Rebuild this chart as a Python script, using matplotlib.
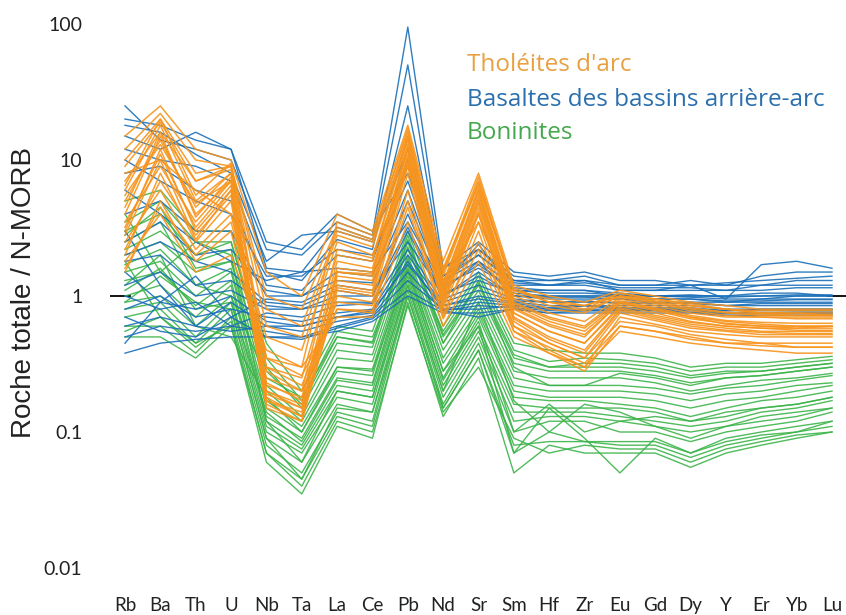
import numpy as np
import matplotlib
matplotlib.use("Agg")
import matplotlib.pyplot as plt

# spider diagram, normalised to N-MORB
elements = ["Rb", "Ba", "Th", "U", "Nb", "Ta", "La", "Ce", "Pb", "Nd", "Sr",
            "Sm", "Hf", "Zr", "Eu", "Gd", "Dy", "Y", "Er", "Yb", "Lu"]

# back-arc basin basalts (blue)
babb = [
    [25, 14, 12, 10, 2.2, 2.0, 3.5, 2.8, 95, 1.6, 2.2, 1.4, 1.3, 1.4, 1.2, 1.2, 1.3, 1.2, 1.4, 1.5, 1.5],
    [18, 16, 11, 8, 1.8, 2.8, 3.0, 2.5, 50, 1.4, 2.0, 1.3, 1.2, 1.3, 1.1, 1.1, 1.2, 0.95, 1.7, 1.8, 1.6],
    [12, 10, 9, 7, 1.5, 1.3, 2.6, 2.2, 25, 1.3, 1.8, 1.2, 1.2, 1.2, 1.1, 1.1, 1.1, 1.1, 1.2, 1.3, 1.3],
    [8, 9, 6, 5, 1.2, 1.1, 2.0, 1.8, 10, 1.2, 2.4, 1.1, 1.1, 1.1, 1.0, 1.0, 1.0, 1.0, 1.0, 1.0, 1.0],
    [4, 5, 3, 3, 1.0, 1.0, 1.5, 1.4, 6, 1.1, 1.8, 1.0, 1.0, 1.0, 1.0, 0.95, 0.95, 0.9, 0.95, 0.95, 0.95],
    [2, 2.5, 1.8, 1.5, 0.9, 0.85, 1.1, 1.0, 4, 1.0, 1.5, 1.0, 0.95, 0.95, 0.95, 0.9, 0.9, 0.9, 0.9, 0.9, 0.9],
    [1.2, 1.5, 1.0, 1.1, 0.8, 0.8, 0.9, 0.9, 3, 0.95, 1.2, 0.95, 0.9, 0.9, 0.9, 0.9, 0.88, 0.85, 0.85, 0.85, 0.85],
    [0.8, 1.0, 0.7, 0.8, 0.7, 0.65, 0.75, 0.8, 2, 0.85, 1.0, 0.9, 0.85, 0.85, 0.85, 0.85, 0.85, 0.8, 0.8, 0.8, 0.8],
    [0.5, 0.6, 0.55, 0.6, 0.55, 0.5, 0.6, 0.7, 1.3, 0.8, 0.8, 0.85, 0.8, 0.8, 0.8, 0.8, 0.8, 0.78, 0.78, 0.78, 0.78],
    [0.38, 0.45, 0.48, 0.5, 0.5, 0.5, 0.55, 0.65, 1.0, 0.75, 0.75, 0.8, 0.75, 0.75, 0.75, 0.75, 0.75, 0.72, 0.72, 0.72, 0.72],
    [15, 12, 16, 12, 2.5, 2.2, 4.0, 3.0, 8, 1.6, 2.5, 1.5, 1.4, 1.5, 1.3, 1.3, 1.2, 1.2, 1.2, 1.2, 1.2],
    [6, 4, 2.5, 1.8, 1.3, 1.5, 1.6, 1.5, 3.5, 1.2, 1.6, 1.15, 1.1, 1.1, 1.05, 1.0, 1.0, 1.0, 1.05, 1.05, 1.0],
    [1.5, 0.9, 1.4, 0.7, 0.95, 0.9, 1.2, 1.1, 2.5, 1.05, 1.3, 1.05, 1.0, 1.0, 1.0, 1.0, 0.98, 0.95, 0.95, 1.0, 1.0],
    [3, 1.2, 0.6, 0.9, 0.6, 0.6, 0.7, 0.75, 1.8, 0.8, 0.9, 0.85, 0.8, 0.85, 0.8, 0.8, 0.8, 0.75, 0.75, 0.75, 0.75],
    [1.0, 0.8, 0.9, 0.6, 0.75, 0.7, 0.85, 0.88, 2.2, 0.9, 1.1, 0.92, 0.9, 0.92, 0.88, 0.88, 0.9, 0.85, 0.88, 0.88, 0.88],
    [0.6, 0.7, 0.6, 0.55, 0.6, 0.55, 0.65, 0.72, 1.5, 0.78, 0.85, 0.82, 0.78, 0.78, 0.78, 0.78, 0.78, 0.75, 0.75, 0.76, 0.76],
    [2.5, 3.5, 2.0, 2.2, 1.1, 1.0, 1.3, 1.25, 5, 1.15, 1.7, 1.1, 1.05, 1.05, 1.02, 1.0, 1.02, 0.98, 1.0, 1.02, 1.02],
    [1.8, 2.0, 1.2, 1.3, 0.85, 0.8, 1.0, 1.0, 3.2, 1.0, 1.4, 1.0, 0.98, 0.98, 0.95, 0.95, 0.95, 0.92, 0.92, 0.94, 0.94],
    [10, 7, 5, 4, 1.4, 1.4, 2.2, 2.0, 7, 1.3, 2.0, 1.25, 1.2, 1.25, 1.15, 1.15, 1.15, 1.1, 1.1, 1.15, 1.15],
    [0.45, 0.9, 0.8, 1.0, 0.65, 0.6, 0.7, 0.78, 1.7, 0.85, 0.95, 0.88, 0.82, 0.85, 0.82, 0.82, 0.82, 0.78, 0.8, 0.8, 0.8],
    [20, 18, 14, 12, 1.6, 1.5, 3.2, 2.6, 12, 1.4, 2.2, 1.3, 1.3, 1.3, 1.2, 1.2, 1.2, 1.25, 1.3, 1.35, 1.4],
    [0.7, 0.55, 0.5, 0.7, 0.5, 0.48, 0.58, 0.68, 1.1, 0.78, 0.7, 0.8, 0.75, 0.78, 0.78, 0.78, 0.76, 0.74, 0.74, 0.74, 0.74],
]

# arc tholeiites (orange)
tholeiites = [
    [15, 25, 12, 10, 1.5, 1.0, 4.0, 3.0, 18, 1.8, 8, 1.2, 1.0, 0.9, 1.1, 1.0, 0.9, 0.85, 0.8, 0.8, 0.8],
    [10, 20, 8, 9, 0.8, 0.6, 3.0, 2.5, 15, 1.5, 7, 1.1, 0.9, 0.8, 1.05, 0.95, 0.85, 0.8, 0.75, 0.75, 0.75],
    [6, 18, 5, 8, 0.3, 0.25, 2.0, 1.8, 14, 1.2, 6, 0.9, 0.7, 0.6, 0.95, 0.85, 0.75, 0.7, 0.7, 0.68, 0.68],
    [4, 15, 4, 7, 0.2, 0.15, 1.5, 1.4, 12, 1.0, 5, 0.8, 0.6, 0.5, 0.9, 0.8, 0.7, 0.65, 0.62, 0.6, 0.6],
    [3, 12, 3, 6, 0.18, 0.13, 1.2, 1.1, 10, 0.9, 4.5, 0.7, 0.5, 0.4, 0.8, 0.7, 0.62, 0.58, 0.55, 0.55, 0.55],
    [2, 8, 2.5, 5, 0.15, 0.12, 1.0, 0.9, 8, 0.8, 3.5, 0.6, 0.4, 0.3, 0.7, 0.62, 0.55, 0.52, 0.5, 0.5, 0.5],
    [1.5, 5, 1.8, 3, 0.25, 0.2, 0.8, 0.75, 6, 0.7, 3, 0.55, 0.38, 0.28, 0.6, 0.55, 0.5, 0.45, 0.45, 0.42, 0.42],
    [8, 10, 6, 4, 0.5, 0.4, 2.5, 2.0, 9, 1.3, 3.5, 1.0, 0.8, 0.75, 1.0, 0.9, 0.8, 0.75, 0.72, 0.72, 0.72],
    [12, 22, 10, 9, 0.35, 0.3, 3.5, 2.8, 16, 1.6, 6.5, 1.15, 0.9, 0.85, 1.05, 0.95, 0.85, 0.8, 0.75, 0.75, 0.72],
    [3.5, 9, 3.5, 7, 0.22, 0.18, 1.4, 1.3, 11, 1.0, 4, 0.75, 0.55, 0.45, 0.85, 0.75, 0.65, 0.6, 0.58, 0.58, 0.58],
    [5, 14, 4.5, 8, 0.17, 0.14, 1.6, 1.5, 13, 1.1, 5.5, 0.85, 0.65, 0.55, 0.9, 0.8, 0.7, 0.62, 0.6, 0.58, 0.6],
    [2.5, 6, 2.2, 4, 0.3, 0.22, 0.9, 0.85, 5, 0.75, 2.5, 0.6, 0.45, 0.35, 0.65, 0.6, 0.52, 0.48, 0.45, 0.45, 0.45],
    [1.8, 4, 1.5, 2, 0.4, 0.3, 0.7, 0.7, 3.5, 0.6, 1.8, 0.5, 0.38, 0.3, 0.55, 0.5, 0.45, 0.42, 0.4, 0.38, 0.38],
    [7, 16, 7, 9, 1.0, 0.8, 3.2, 2.6, 17, 1.5, 7.5, 1.1, 0.95, 0.85, 1.0, 0.95, 0.88, 0.8, 0.78, 0.78, 0.78],
    [4.5, 16, 3.8, 7.5, 0.19, 0.15, 1.5, 1.45, 12.5, 1.05, 5.2, 0.82, 0.62, 0.52, 0.88, 0.78, 0.68, 0.63, 0.6, 0.6, 0.6],
    [3.2, 11, 3.2, 6.5, 0.17, 0.13, 1.3, 1.2, 10.5, 0.95, 4.8, 0.75, 0.55, 0.45, 0.82, 0.72, 0.64, 0.6, 0.58, 0.56, 0.56],
    [2.2, 7, 2.8, 5.5, 0.16, 0.12, 1.1, 1.0, 9, 0.85, 4.0, 0.65, 0.45, 0.35, 0.75, 0.66, 0.58, 0.55, 0.52, 0.52, 0.52],
    [9, 19, 7, 8.5, 0.6, 0.5, 2.8, 2.3, 14.5, 1.4, 6.8, 1.05, 0.85, 0.78, 1.0, 0.92, 0.82, 0.76, 0.74, 0.72, 0.72],
    [5.5, 13, 4.8, 7, 0.23, 0.17, 1.8, 1.6, 12, 1.15, 5.8, 0.88, 0.68, 0.58, 0.92, 0.82, 0.72, 0.66, 0.64, 0.63, 0.63],
    [2.8, 10, 2.6, 6, 0.2, 0.16, 1.15, 1.05, 9.5, 0.88, 4.2, 0.68, 0.48, 0.38, 0.78, 0.68, 0.6, 0.56, 0.54, 0.53, 0.53],
    [6.5, 20, 5.5, 9.5, 0.28, 0.2, 2.2, 1.9, 15, 1.25, 6.2, 0.95, 0.75, 0.65, 0.98, 0.88, 0.78, 0.72, 0.7, 0.7, 0.7],
    [1.6, 4.5, 2.0, 3.5, 0.35, 0.26, 0.8, 0.78, 4.5, 0.68, 2.2, 0.55, 0.42, 0.32, 0.6, 0.55, 0.48, 0.45, 0.43, 0.42, 0.42],
]

# boninites (green)
boninites = [
    [5, 6, 3, 3, 0.45, 0.2, 0.6, 0.55, 3, 0.6, 1.5, 0.45, 0.4, 0.38, 0.38, 0.35, 0.3, 0.32, 0.32, 0.34, 0.36],
    [3, 4, 2, 2.5, 0.3, 0.15, 0.45, 0.42, 2.5, 0.5, 1.2, 0.35, 0.3, 0.3, 0.3, 0.28, 0.25, 0.27, 0.28, 0.3, 0.32],
    [2, 2.5, 1.5, 1.8, 0.2, 0.12, 0.35, 0.33, 2, 0.4, 1.0, 0.28, 0.25, 0.25, 0.25, 0.23, 0.2, 0.22, 0.24, 0.25, 0.27],
    [1.5, 1.8, 1.0, 1.5, 0.15, 0.1, 0.28, 0.26, 1.8, 0.32, 0.8, 0.22, 0.2, 0.2, 0.2, 0.19, 0.17, 0.19, 0.2, 0.22, 0.23],
    [1.0, 1.2, 0.7, 1.2, 0.12, 0.08, 0.22, 0.2, 1.5, 0.25, 0.7, 0.18, 0.17, 0.17, 0.16, 0.15, 0.13, 0.15, 0.17, 0.18, 0.2],
    [0.8, 0.9, 0.5, 0.9, 0.1, 0.07, 0.18, 0.16, 1.3, 0.2, 0.55, 0.14, 0.14, 0.14, 0.13, 0.12, 0.11, 0.12, 0.14, 0.15, 0.17],
    [0.6, 0.6, 0.38, 0.7, 0.08, 0.05, 0.14, 0.12, 1.1, 0.16, 0.45, 0.1, 0.12, 0.12, 0.1, 0.1, 0.085, 0.1, 0.11, 0.12, 0.14],
    [0.5, 0.5, 0.35, 0.6, 0.06, 0.035, 0.11, 0.09, 0.9, 0.13, 0.35, 0.05, 0.08, 0.07, 0.07, 0.07, 0.055, 0.07, 0.08, 0.09, 0.1],
    [2.5, 3.5, 1.2, 1.0, 0.25, 0.18, 0.5, 0.45, 2.8, 0.45, 1.3, 0.3, 0.22, 0.22, 0.27, 0.25, 0.22, 0.25, 0.26, 0.28, 0.3],
    [1.2, 2, 0.6, 0.5, 0.18, 0.1, 0.3, 0.28, 1.6, 0.28, 0.6, 0.07, 0.15, 0.09, 0.05, 0.09, 0.07, 0.09, 0.1, 0.11, 0.12],
    [4, 1.5, 2.5, 2, 0.12, 0.06, 0.2, 0.18, 1.2, 0.2, 0.9, 0.17, 0.1, 0.16, 0.14, 0.11, 0.09, 0.11, 0.13, 0.14, 0.15],
    [0.9, 1.4, 0.9, 0.8, 0.09, 0.045, 0.15, 0.14, 1.0, 0.15, 0.4, 0.08, 0.085, 0.085, 0.08, 0.08, 0.065, 0.08, 0.09, 0.1, 0.11],
    [1.8, 0.7, 0.45, 0.6, 0.07, 0.04, 0.12, 0.1, 0.85, 0.14, 0.3, 0.09, 0.07, 0.08, 0.075, 0.075, 0.06, 0.075, 0.085, 0.095, 0.1],
    [3.5, 5, 2.5, 2.5, 0.35, 0.17, 0.55, 0.5, 2.2, 0.55, 1.4, 0.4, 0.33, 0.35, 0.34, 0.32, 0.28, 0.3, 0.3, 0.32, 0.34],
    [2.2, 3, 1.8, 2.2, 0.22, 0.13, 0.4, 0.37, 2.3, 0.45, 1.1, 0.32, 0.28, 0.28, 0.28, 0.26, 0.23, 0.25, 0.26, 0.28, 0.3],
    [1.7, 2.2, 1.2, 1.6, 0.17, 0.11, 0.3, 0.29, 1.9, 0.35, 0.9, 0.25, 0.22, 0.22, 0.22, 0.21, 0.19, 0.21, 0.22, 0.24, 0.26],
    [1.3, 1.5, 0.85, 1.3, 0.13, 0.09, 0.25, 0.23, 1.7, 0.28, 0.75, 0.2, 0.18, 0.18, 0.18, 0.17, 0.15, 0.17, 0.18, 0.2, 0.22],
    [0.9, 1.0, 0.6, 1.0, 0.11, 0.075, 0.2, 0.18, 1.4, 0.22, 0.6, 0.16, 0.15, 0.15, 0.15, 0.14, 0.12, 0.14, 0.15, 0.16, 0.18],
    [0.7, 0.8, 0.45, 0.8, 0.09, 0.06, 0.16, 0.14, 1.2, 0.18, 0.5, 0.12, 0.13, 0.13, 0.12, 0.11, 0.1, 0.11, 0.12, 0.13, 0.15],
    [1.1, 1.6, 0.8, 0.9, 0.14, 0.085, 0.24, 0.22, 1.55, 0.24, 0.65, 0.1, 0.16, 0.1, 0.12, 0.13, 0.12, 0.13, 0.15, 0.16, 0.18],
    [2.8, 4.5, 1.6, 1.8, 0.28, 0.16, 0.5, 0.46, 2.6, 0.52, 1.25, 0.37, 0.3, 0.32, 0.32, 0.3, 0.26, 0.28, 0.28, 0.3, 0.32],
    [0.55, 0.7, 0.42, 0.65, 0.07, 0.045, 0.13, 0.11, 1.0, 0.15, 0.4, 0.07, 0.1, 0.085, 0.085, 0.085, 0.07, 0.085, 0.095, 0.1, 0.12],
]

group_names = ["Tholéites d'arc", "Basaltes des bassins arrière-arc", "Boninites"]
yticks = [0.01, 0.1, 1, 10, 100]
ytick_labels = ["0.01", "0.1", "1", "10", "100"]

c_orange = "#f7941d"
c_blue = "#1a6fb8"
c_green = "#3cb44a"

W, H = 846, 615
fig = plt.figure(figsize=(W / 100, H / 100), dpi=100)
# axes placed in pixel terms
left, right, top, bottom = 110, 846, 15, 575
ax = fig.add_axes([left / W, 1 - bottom / H, (right - left) / W, (bottom - top) / H])

px_per_el = (832 - 125) / 20
ax.set_xlim((left - 125) / px_per_el, 20 + (right - 832) / px_per_el)
ax.set_yscale("log")
ax.set_ylim(10 ** ((296 - bottom) / 136), 10 ** ((296 - top) / 136))

x = np.arange(len(elements))
# reference level at 1: short stubs either side of the data
span = right - left
ax.axhline(1, xmin=0, xmax=(130 - left) / span, color="black", lw=1.3, zorder=0)
ax.axhline(1, xmin=(828 - left) / span, xmax=1, color="black", lw=1.3, zorder=0)

for prof in boninites:
    ax.plot(x, prof, color=c_green, lw=1.0, alpha=0.9, zorder=1)
for prof in babb:
    ax.plot(x, prof, color=c_blue, lw=1.0, alpha=0.9, zorder=2)
for prof in tholeiites:
    ax.plot(x, prof, color=c_orange, lw=1.1, alpha=0.9, zorder=3)

for s in ax.spines.values():
    s.set_visible(False)
ax.set_xticks(x)
ax.set_xticklabels(elements, fontsize=13.5, family="Lato", color="#222222")
ax.set_yticks(yticks)
ax.set_yticklabels(ytick_labels, fontsize=14, family="Lato", color="#222222")
ax.minorticks_off()
ax.tick_params(axis="x", length=0, pad=16)
ax.tick_params(axis="y", length=0, pad=20)

fig.text(24 / W, 1 - 292 / H, "Roche totale / N-MORB", rotation=90,
         ha="center", va="center", fontsize=20, family="Liberation Sans", color="#222222")

legend_colors = ["#e8a040", "#2a6fae", "#45a84e"]
legend_y = [65, 100, 133]
for name, col, yy in zip(group_names, legend_colors, legend_y):
    fig.text(467 / W, 1 - yy / H, name, ha="left", va="center",
             fontsize=17.5, family="Open Sans", color=col)

fig.savefig("out.png", dpi=100)
